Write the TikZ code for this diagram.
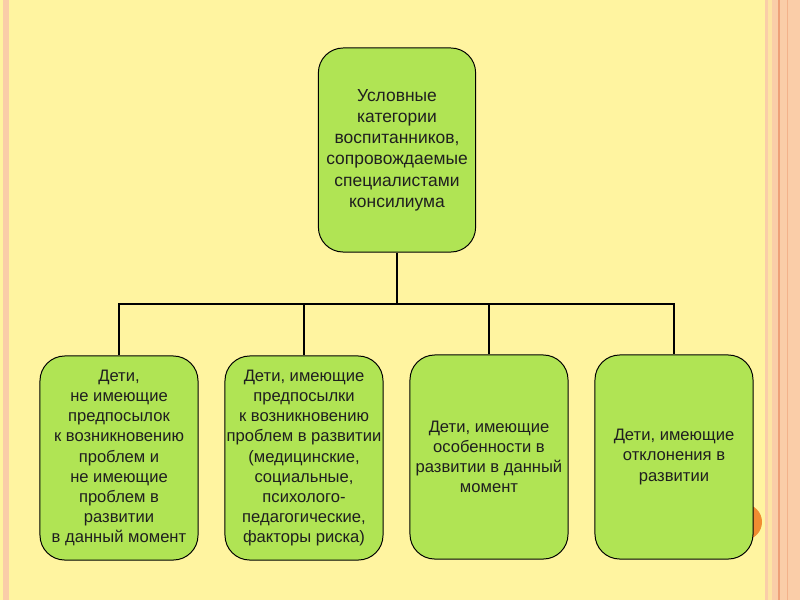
\documentclass[tikz,border=0pt]{standalone}
\usepackage{fontspec}
\setmainfont{Liberation Sans}
\usepackage{tikz}
\usetikzlibrary{positioning}
\definecolor{slidebg}{RGB}{255,244,160}
\definecolor{boxgreen}{RGB}{176,228,84}
\definecolor{edgepeach}{RGB}{250,205,168}
\definecolor{edgeline}{RGB}{238,160,120}
\definecolor{dotorange}{RGB}{240,140,50}

\begin{document}
\begin{tikzpicture}[x=0.025cm, y=-0.025cm,
  catbox/.style={draw=black, line width=0.7pt, fill=boxgreen, rounded corners=0.62cm,
    minimum width=3.95cm, minimum height=5.1cm, align=center, inner sep=1pt,
    text=black!88, font=\fontsize{11.8}{14.3}\selectfont},
  link/.style={line width=1.4pt, black}]
\useasboundingbox (0,0) rectangle (800,600);
% slide background and edge stripes
\fill[slidebg] (0,0) rectangle (800,600);
\fill[edgepeach] (3,0) rectangle (9,600);
\fill[edgepeach] (765,0) rectangle (800,600);
\fill[slidebg!60!edgepeach] (768,0) rectangle (772,600);
\draw[edgeline, line width=1pt] (779,0) -- (779,600);
\draw[edgeline!60!edgepeach, line width=0.6pt] (787,0) -- (787,600);
\fill[dotorange] (744,522) circle (18);

\node[catbox, minimum width=3.93cm, font=\fontsize{12.4}{15.1}\selectfont] (top) at (397,150)
  {Условные\\категории\\воспитанников,\\сопровождаемые\\специалистами\\консилиума};

\node[catbox] (b1) at (119,458)
  {Дети,\\не имеющие\\предпосылок\\к возникновению\\проблем и\\не имеющие\\проблем в\\развитии\\в данный момент};
\node[catbox] (b2) at (304,458)
  {Дети, имеющие\\предпосылки\\к возникновению\\проблем в развитии\\(медицинские,\\социальные,\\психолого-\\педагогические,\\факторы риска)};
\node[catbox] (b3) at (489,457)
  {Дети, имеющие\\особенности в\\развитии в данный\\момент};
\node[catbox] (b4) at (674,457)
  {Дети, имеющие\\отклонения в\\развитии};

% tree connectors
\draw[link] (top.south) -- ++(0,51) coordinate (bus);
\foreach \i in {1,...,4}{
  \draw[link] (bus) -| (b\i.north);
}
\end{tikzpicture}
\end{document}
